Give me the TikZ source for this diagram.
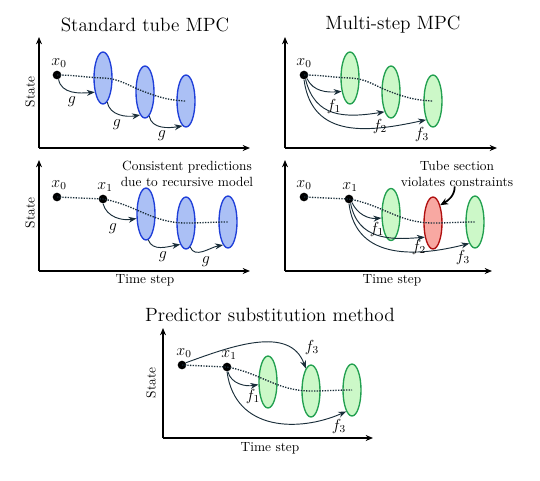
\documentclass[tikz,border=0pt]{standalone}
\usetikzlibrary{arrows.meta,shapes.geometric}
\definecolor{bfill}{HTML}{ABC0F5}
\definecolor{bdraw}{HTML}{1F3FD9}
\definecolor{gfill}{HTML}{CCF8C8}
\definecolor{gdraw}{HTML}{22A050}
\definecolor{rfill}{HTML}{F8A8A2}
\definecolor{rdraw}{HTML}{B01010}
\definecolor{arrc}{HTML}{1A2E3A}
\tikzset{
  dot/.style={circle,fill=black,inner sep=0pt,minimum size=6.5pt},
  tube/.style={ellipse,inner sep=0pt,minimum width=13.5pt,minimum height=39pt,line width=1pt},
  btube/.style={tube,draw=bdraw,fill=bfill},
  gtube/.style={tube,draw=gdraw,fill=gfill},
  rtube/.style={tube,draw=rdraw,fill=rfill},
  dotline/.style={densely dotted,line width=1pt,arrc},
  arr/.style={-{Stealth[length=6pt,width=4.5pt]},line width=0.7pt,arrc},
  axis/.style={-{Stealth[length=5.5pt,width=4.5pt]},line width=0.9pt,black},
  lab/.style={font=\large,inner sep=1pt},
  ttl/.style={font=\Large,inner sep=0pt},
  txt/.style={inner sep=0pt,align=center}
}
\begin{document}
\begin{tikzpicture}[x=0.75pt,y=-0.75pt]
\useasboundingbox (0,0) rectangle (540,480);

% ---------- Panel 1: Standard tube MPC ----------
\node[ttl] (t1) at (145,25) {Standard tube MPC};
\coordinate (o1) at (39,148);
\coordinate (y1) at (39,37);
\coordinate (x1e) at (250,148);
\draw[axis] (o1) -- (y1);
\draw[axis] (o1) -- (x1e);
\node[txt,rotate=90] (s1) at (30,92) {State};
\node[btube] (a1) at (103,78) {};
\node[btube] (a2) at (145,92) {};
\node[btube] (a3) at (186,101) {};
\node[dot] (a0) at (57,75) {};
\node[lab] (la0) at (59,63) {$x_0$};
\draw[dotline] (a0.center) to[out=0,in=178] (a1.center) to[out=-2,in=160] (a2.center) to[out=-20,in=178] (a3.center);
\draw[arr] (a0.-70) to[out=-80,in=185] (a1.240);
\draw[arr] (a1.-80) to[out=-80,in=190] (a2.258);
\draw[arr] (a2.-80) to[out=-80,in=190] (a3.262);
\node[lab] (g1) at (72,102) {$g$};
\node[lab] (g2) at (117,125) {$g$};
\node[lab] (g3) at (162,136) {$g$};

% ---------- Panel 2: Multi-step MPC ----------
\node[ttl] (t2) at (393,25) {Multi-step MPC};
\coordinate (o2) at (285,148);
\coordinate (y2) at (285,37);
\coordinate (x2e) at (497,148);
\draw[axis] (o2) -- (y2);
\draw[axis] (o2) -- (x2e);
\node[gtube] (b1) at (350,78) {};
\node[gtube] (b2) at (391,92) {};
\node[gtube] (b3) at (433,101) {};
\node[dot] (b0) at (304,75) {};
\node[lab] (lb0) at (304,63) {$x_0$};
\draw[dotline] (b0.center) to[out=0,in=178] (b1.center) to[out=-2,in=160] (b2.center) to[out=-20,in=178] (b3.center);
\draw[arr] (b0.-50) to[out=-65,in=185] (b1.238);
\draw[arr] (b0.-70) .. controls (315,118) and (345,118) .. (b2.252);
\draw[arr] (b0.-90) .. controls (312,140) and (370,132) .. (b3.250);
\node[lab] (f1) at (334,106) {$f_1$};
\node[lab] (f2) at (380,126) {$f_2$};
\node[lab] (f3) at (422,134) {$f_3$};

% ---------- Panel 3 ----------
\coordinate (o3) at (39,271);
\coordinate (y3) at (39,160);
\coordinate (x3e) at (250,271);
\draw[axis] (o3) -- (y3);
\draw[axis] (o3) -- (x3e);
\node[txt,rotate=90] (s3) at (30,213) {State};
\node[txt] (ts3) at (145,280) {Time step};
\node[txt] (n3) at (187,173.5) {Consistent predictions\\due to recursive model};
\node[btube] (c2) at (146,214) {};
\node[btube] (c3) at (186,223) {};
\node[btube] (c4) at (228,222) {};
\node[dot] (c0) at (57,197) {};
\node[dot] (c1) at (103,199) {};
\node[lab] (lc0) at (59,185) {$x_0$};
\node[lab] (lc1) at (105,187) {$x_1$};
\draw[dotline] (c0.center) -- (c1.center) to[out=-10,in=180] (c3.center) to[out=0,in=180] (c4.center);
\draw[arr] (c1.-90) to[out=-75,in=190] (c2.205);
\draw[arr] (c2.-85) to[out=-70,in=190] (c3.255);
\draw[arr] (c3.-80) to[out=-70,in=190] (c4.258);
\node[lab] (g4) at (113,229) {$g$};
\node[lab] (g5) at (163,257) {$g$};
\node[lab] (g6) at (206,262) {$g$};

% ---------- Panel 4 ----------
\coordinate (o4) at (285,271);
\coordinate (y4) at (285,160);
\coordinate (x4e) at (492,271);
\draw[axis] (o4) -- (y4);
\draw[axis] (o4) -- (x4e);
\node[txt] (ts4) at (392,280) {Time step};
\node[txt] (n4) at (457,173.5) {Tube section\\violates constraints};
\node[gtube] (d2) at (391,214.5) {};
\node[rtube] (d3) at (433,223) {};
\node[gtube] (d4) at (475,222) {};
\node[dot] (d0) at (304,197) {};
\node[dot] (d1) at (349,199) {};
\node[lab] (ld0) at (304,185) {$x_0$};
\node[lab] (ld1) at (350,187) {$x_1$};
\draw[dotline] (d0.center) -- (d1.center) to[out=-10,in=180] (d3.center) to[out=0,in=180] (d4.center);
\draw[arr] (d1.-50) to[out=-65,in=185] (d2.200);
\draw[arr] (d1.-70) .. controls (358,240) and (390,240) .. (d3.240);
\draw[arr] (d1.-90) .. controls (356,262) and (420,256) .. (d4.255);
\draw[-{Stealth[length=6pt,width=5pt]},line width=1.3pt] (n4.-100) to[out=-90,in=30] (d3.68);
\node[lab] (f4) at (377,229) {$f_1$};
\node[lab] (f5) at (419,247) {$f_2$};
\node[lab] (f6) at (463,257) {$f_3$};

% ---------- Panel 5: Predictor substitution method ----------
\node[ttl] (t5) at (270,315) {Predictor substitution method};
\coordinate (o5) at (163,438);
\coordinate (y5) at (163,328);
\coordinate (x5e) at (373,438);
\draw[axis] (o5) -- (y5);
\draw[axis] (o5) -- (x5e);
\node[txt,rotate=90] (s5) at (151,383) {State};
\node[txt] (ts5) at (270,448) {Time step};
\node[gtube] (h1) at (268,382) {};
\node[gtube] (h2) at (311,391) {};
\node[gtube] (h3) at (352,390) {};
\node[dot] (e0) at (182,365) {};
\node[dot] (e1) at (227,367) {};
\node[lab] (le0) at (184,353) {$x_0$};
\node[lab] (le1) at (229,355) {$x_1$};
\draw[dotline] (e0.center) -- (e1.center) to[out=-10,in=180] (h2.center) to[out=0,in=180] (h3.center);
\draw[arr] (e0.30) to[out=20,in=110] (h2.103);
\draw[arr] (e1.-80) to[out=-75,in=190] (h1.195);
\draw[arr] (e1.-90) .. controls (235,432) and (300,432) .. (h3.255);
\node[lab] (f7) at (312,347) {$f_3$};
\node[lab] (f8) at (253,396) {$f_1$};
\node[lab] (f9) at (339,426) {$f_3$};
\end{tikzpicture}
\end{document}
